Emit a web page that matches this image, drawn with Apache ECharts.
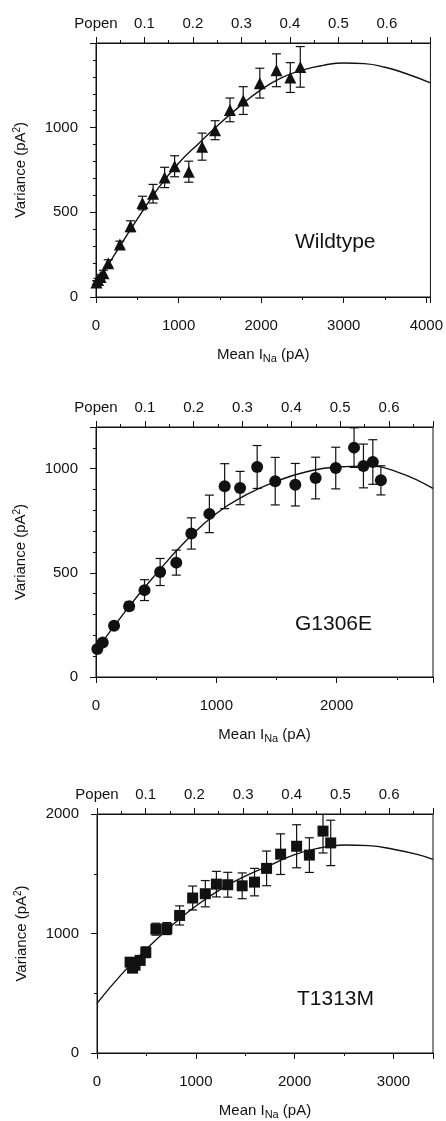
<!DOCTYPE html>
<html>
<head>
<meta charset="utf-8">
<script src="https://cdn.jsdelivr.net/npm/echarts@6/dist/echarts.min.js"></script>
<style>
  html, body { margin: 0; padding: 0; background: #fff; }
  #chart { width: 446px; height: 1121px; }
</style>
</head>
<body>
<div id="chart"></div>
<script>
// Wildtype: mean current (pA), variance (pA^2), error
const wtI = [5, 25, 55, 90, 148, 289, 418, 562, 691, 831, 952, 1124, 1285, 1442, 1622, 1783, 1984, 2185, 2353, 2474]
const wtVar = [85, 100, 118, 140, 200, 310, 418, 555, 610, 706, 772, 740, 888, 985, 1105, 1160, 1263, 1339, 1296, 1359]
const wtErr = [10, 10, 15, 18, 20, 20, 32, 40, 55, 60, 62, 62, 80, 56, 70, 82, 88, 97, 88, 120]
const wtFitI = [0, 250, 500, 750, 1000, 1250, 1500, 1750, 2000, 2250, 2500, 2750, 3000, 3250, 3500, 3750, 4050]
const wtFitV = [75, 270, 460, 640, 790, 910, 1025, 1130, 1225, 1295, 1340, 1368, 1382, 1378, 1357, 1320, 1265]

// G1306E
const gI = [11, 56, 150, 275, 403, 533, 667, 792, 942, 1069, 1197, 1339, 1489, 1656, 1825, 1992, 2144, 2222, 2300, 2367]
const gVar = [134, 166, 246, 340, 417, 504, 549, 689, 783, 916, 907, 1008, 940, 923, 955, 1003, 1101, 1013, 1032, 944]
const gErr = [15, 15, 15, 20, 50, 65, 60, 75, 90, 108, 80, 103, 114, 102, 100, 100, 95, 105, 107, 70]
const gFitI = [0, 250, 500, 750, 1000, 1250, 1500, 1750, 2000, 2250, 2500, 2800]
const gFitV = [125, 320, 495, 655, 785, 875, 940, 985, 1008, 1012, 985, 905]

// T1313M
const tI = [335, 360, 385, 437, 494, 596, 707, 836, 968, 1096, 1208, 1323, 1469, 1594, 1716, 1858, 2020, 2149, 2287, 2365]
const tVar = [760, 710, 735, 775, 843, 1036, 1041, 1151, 1297, 1333, 1413, 1408, 1399, 1430, 1545, 1664, 1730, 1656, 1857, 1758]
const tErr = [30, 30, 30, 35, 45, 50, 50, 80, 100, 110, 107, 104, 108, 115, 145, 170, 180, 145, 183, 190]
const tFitI = [0, 250, 500, 750, 1000, 1250, 1500, 1750, 2000, 2250, 2500, 2750, 3000, 3250, 3400]
const tFitV = [415, 660, 870, 1060, 1230, 1370, 1480, 1570, 1660, 1715, 1740, 1735, 1705, 1660, 1620]

// 轴范围
const xMax = [4050, 2800, 3400]
const yMax = [1500, 1200, 2000]
const yStep = [500, 500, 1000]
const yMinorSplit = [5, 5, 2]
const popenMax = 0.69
const labels = ['Wildtype', 'G1306E', 'T1313M']

const FONT = 'Arial, "Liberation Sans", Helvetica, sans-serif'
const BLACK = '#111'

const grids = [
  { left: 96, width: 336, top: 43, height: 254 },
  { left: 96, width: 337, top: 427, height: 250 },
  { left: 97, width: 336, top: 814, height: 243 }
]

// 误差线
const errBar = (params, api) => {
  const cs = params.coordSys
  const x = api.value(0)
  const top = api.coord([x, api.value(2)])
  const bot = api.coord([x, api.value(1)])
  const yTop = Math.max(top[1], cs.y)
  const yBot = Math.min(bot[1], cs.y + cs.height)
  const w = 4.5
  const style = { stroke: BLACK, lineWidth: 1.2 }
  const children = [{ type: 'line', shape: { x1: top[0], y1: yTop, x2: top[0], y2: yBot }, style }]
  if (top[1] >= cs.y) children.push({ type: 'line', shape: { x1: top[0] - w, y1: top[1], x2: top[0] + w, y2: top[1] }, style })
  children.push({ type: 'line', shape: { x1: bot[0] - w, y1: bot[1], x2: bot[0] + w, y2: bot[1] }, style })
  return { type: 'group', children }
}

const axisBase = {
  axisLine: { lineStyle: { color: BLACK, width: 1 } },
  splitLine: { show: false },
  axisLabel: { color: BLACK, fontSize: 15, fontFamily: FONT },
  axisTick: { inside: false, length: 6, lineStyle: { color: BLACK } },
  minorTick: { show: true, length: 3, lineStyle: { color: BLACK } }
}

const xAxes = []
const yAxes = []
const series = []
const titles = []

const sets = [
  { I: wtI, V: wtVar, E: wtErr, fI: wtFitI, fV: wtFitV, symbol: 'triangle', size: 12 },
  { I: gI, V: gVar, E: gErr, fI: gFitI, fV: gFitV, symbol: 'circle', size: 12 },
  { I: tI, V: tVar, E: tErr, fI: tFitI, fV: tFitV, symbol: 'rect', size: 11 }
]

const titleTop = [232, 614, 989]
const titleLeft = [295, 295, 297]

sets.forEach((s, k) => {
  // 下方x轴
  xAxes.push(Object.assign({}, axisBase, {
    type: 'value',
    gridIndex: k,
    position: 'bottom',
    min: 0,
    max: xMax[k],
    interval: 1000,
    minorTick: Object.assign({}, axisBase.minorTick, { splitNumber: 2 }),
    axisLabel: Object.assign({}, axisBase.axisLabel, {
      margin: 21,
      formatter: v => (v % 1000 === 0 ? String(v) : '')
    }),
    name: 'Mean I{sub|Na} (pA)',
    nameLocation: 'middle',
    nameGap: 48,
    nameTextStyle: {
      color: BLACK, fontSize: 15, fontFamily: FONT,
      rich: { sub: { fontSize: 11, fontFamily: FONT, color: BLACK, verticalAlign: 'bottom', padding: [8, 0, 0, 0] } }
    }
  }))
  // 上方Popen轴
  xAxes.push(Object.assign({}, axisBase, {
    type: 'value',
    gridIndex: k,
    position: 'top',
    min: 0,
    max: popenMax,
    interval: 0.1,
    minorTick: Object.assign({}, axisBase.minorTick, { splitNumber: 2 }),
    axisLabel: Object.assign({}, axisBase.axisLabel, {
      margin: 12,
      formatter: v => {
        if (v === 0) return 'Popen'
        if (v > 0.65) return ''
        return v.toFixed(1)
      }
    })
  }))
  // y轴
  yAxes.push(Object.assign({}, axisBase, {
    type: 'value',
    gridIndex: k,
    min: 0,
    max: yMax[k],
    interval: yStep[k],
    minorTick: Object.assign({}, axisBase.minorTick, { splitNumber: yMinorSplit[k] }),
    axisLabel: Object.assign({}, axisBase.axisLabel, {
      margin: 18,
      formatter: v => (v % yStep[k] === 0 && v !== 1500 ? String(v) : '')
    }),
    name: 'Variance (pA{sup|2})',
    nameLocation: 'middle',
    nameRotate: 90,
    nameGap: 66,
    nameTextStyle: {
      color: BLACK, fontSize: 15, fontFamily: FONT,
      rich: { sup: { fontSize: 10, fontFamily: FONT, color: BLACK, verticalAlign: 'top', padding: [0, 0, 8, 0] } }
    }
  }))

  // 拟合曲线
  series.push({
    type: 'line',
    xAxisIndex: k * 2,
    yAxisIndex: k,
    data: s.fI.map((x, i) => [x, s.fV[i]]),
    smooth: true,
    showSymbol: false,
    symbol: 'none',
    clip: true,
    lineStyle: { color: BLACK, width: 1.4 },
    z: 2,
    silent: true
  })
  // 误差线
  series.push({
    type: 'custom',
    xAxisIndex: k * 2,
    yAxisIndex: k,
    renderItem: errBar,
    encode: { x: 0, y: [1, 2] },
    data: s.I.map((x, i) => [x, s.V[i] - s.E[i], s.V[i] + s.E[i]]),
    z: 3,
    silent: true
  })
  // 数据点
  series.push({
    type: 'scatter',
    xAxisIndex: k * 2,
    yAxisIndex: k,
    data: s.I.map((x, i) => [x, s.V[i]]),
    symbol: s.symbol,
    symbolSize: s.size,
    itemStyle: { color: BLACK, opacity: 1 },
    z: 4,
    silent: true
  })

  titles.push({
    text: labels[k],
    left: titleLeft[k],
    top: titleTop[k],
    padding: 0,
    textStyle: { color: BLACK, fontSize: 21, fontWeight: 'normal', fontFamily: FONT }
  })
})

const myChart = echarts.init(document.getElementById('chart'), null, { renderer: 'canvas' })
myChart.setOption({
  backgroundColor: '#fff',
  animation: false,
  title: titles,
  grid: grids.map(g => Object.assign({ show: true, borderColor: BLACK, borderWidth: 1, backgroundColor: 'transparent' }, g)),
  xAxis: xAxes,
  yAxis: yAxes,
  series: series
})
</script>
</body>
</html>
